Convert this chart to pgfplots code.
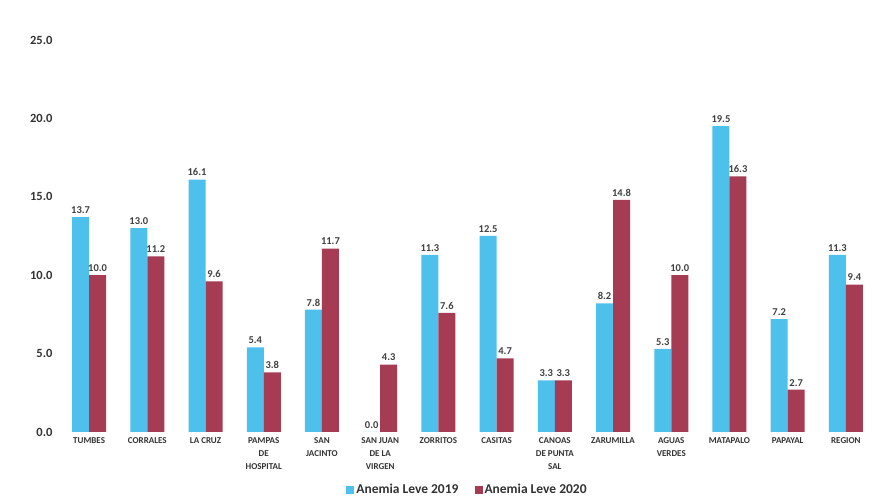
\documentclass[border=0pt]{standalone}
\usepackage{pgfplots}
\pgfplotsset{compat=1.18}
\usepackage{fontspec}
\setmainfont{Carlito}
\definecolor{cBlue}{RGB}{78,192,236}
\definecolor{cRed}{RGB}{166,60,84}
\begin{document}
\begin{tikzpicture}
\path[use as bounding box] (-60pt,-70pt) rectangle (817pt,432pt);
\begin{axis}[
  at={(0,0)}, anchor=south west,
  scale only axis, width=815pt, height=392pt,
  ybar=0pt, bar width=17pt,
  xmin=-0.5, xmax=13.5, ymin=0, ymax=25,
  axis line style={draw=none},
  tick style={draw=none},
  ytick={0,5,10,15,20,25},
  yticklabel style={font=\bfseries\fontsize{12.5}{13}\selectfont, text=black!80, xshift=-4pt, /pgf/number format/.cd, fixed, fixed zerofill, precision=1},
  /pgf/number format/assume math mode=true,
  xtick={0,...,13},
  xticklabels={TUMBES,CORRALES,LA CRUZ,PAMPAS\\DE\\HOSPITAL,SAN\\JACINTO,SAN JUAN\\DE LA\\VIRGEN,ZORRITOS,CASITAS,CANOAS\\DE PUNTA\\SAL,ZARUMILLA,AGUAS\\VERDES,MATAPALO,PAPAYAL,REGION},
  xticklabel style={align=center, font=\bfseries\fontsize{9}{13}\selectfont, text=black!80, yshift=2pt},
  nodes near coords,
  nodes near coords style={font=\bfseries\fontsize{10.5}{11}\selectfont, text=black!75, /pgf/number format/.cd, fixed, fixed zerofill, precision=1},
  legend style={at={(0.5,-0.125)}, anchor=north, draw=none, inner sep=1pt, legend columns=2, font=\bfseries\fontsize{13.5}{14}\selectfont, text=black!80, /tikz/every even column/.append style={column sep=14pt}},
  legend image code/.code={\fill[#1] (0pt,-4pt) rectangle (8pt,4pt);},
]
\addplot[fill=cBlue, draw=none] coordinates {(0,13.7)(1,13.0)(2,16.1)(3,5.4)(4,7.8)(5,0.0)(6,11.3)(7,12.5)(8,3.3)(9,8.2)(10,5.3)(11,19.5)(12,7.2)(13,11.3)};
\addplot[fill=cRed, draw=none] coordinates {(0,10.0)(1,11.2)(2,9.6)(3,3.8)(4,11.7)(5,4.3)(6,7.6)(7,4.7)(8,3.3)(9,14.8)(10,10.0)(11,16.3)(12,2.7)(13,9.4)};
\legend{Anemia Leve 2019, Anemia Leve 2020}
\end{axis}
\end{tikzpicture}
\end{document}
